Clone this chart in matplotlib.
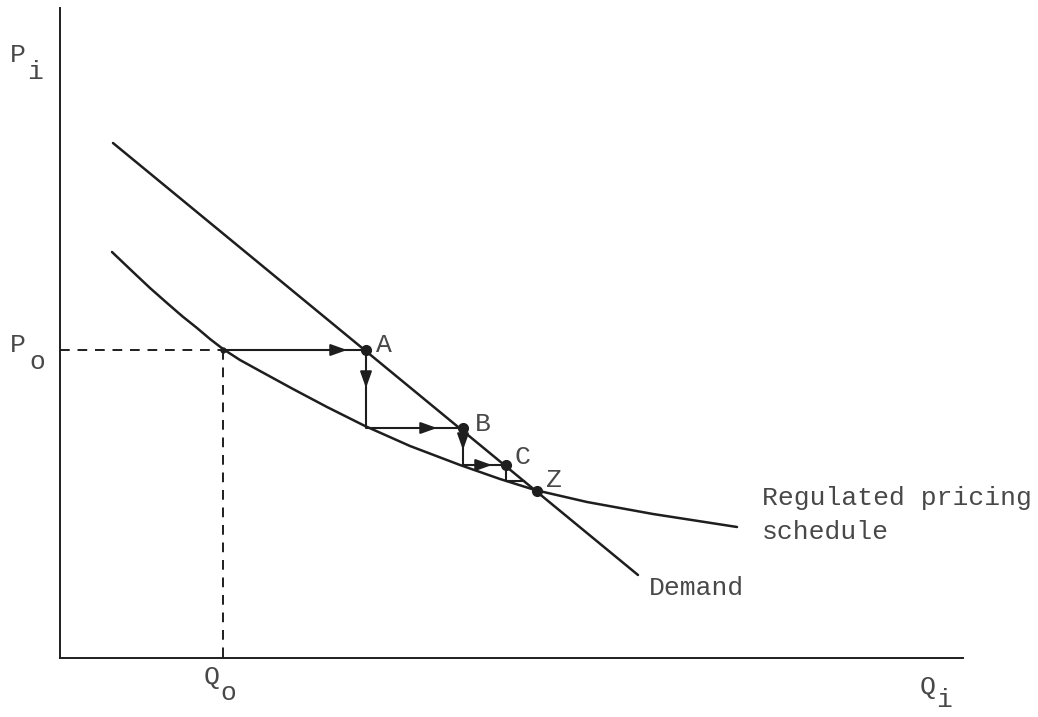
import matplotlib
matplotlib.use('Agg')
import matplotlib.pyplot as plt

# demand line (Q, P)
demand_q = [0.53, 5.78]
demand_p = [5.15, 0.83]

# regulated pricing schedule
sched_q = [0.52, 0.73, 0.90, 1.07, 1.22, 1.37, 1.50, 1.63, 1.80, 2.00,
           2.33, 2.67, 3.05, 3.50, 4.00, 4.40, 4.75, 5.27, 5.93, 6.77]
sched_p = [4.06, 3.86, 3.70, 3.55, 3.42, 3.30, 3.19, 3.09, 2.98, 2.87,
           2.69, 2.51, 2.32, 2.12, 1.93, 1.79, 1.68, 1.56, 1.44, 1.31]

# adjustment path P0 -> A -> B -> C -> Z
step_q = [1.63, 3.06, 3.06, 4.03, 4.03, 4.46, 4.46, 4.64]
step_p = [3.08, 3.08, 2.30, 2.30, 1.93, 1.93, 1.77, 1.77]

# arrowheads on the path: (q, p, direction)
arrows = [(2.87, 3.08, 'right'), (3.06, 2.70, 'down'), (3.77, 2.30, 'right'),
          (4.03, 2.08, 'down'), (4.32, 1.93, 'right')]

point_names = ['A', 'B', 'C', 'Z']
point_q = [3.06, 4.03, 4.46, 4.77]
point_p = [3.08, 2.30, 1.93, 1.67]

q0 = 1.63
p0 = 3.08
q_max = 9.03
p_max = 6.50

ink = '#1e1e1e'
txt = '#484848'
font = 'Liberation Mono'
fs = 19

fig = plt.figure(figsize=(10.38, 7.17), dpi=100)
ax = fig.add_axes([0, 0, 1, 1])
ax.set_xlim(-0.60, 9.78)
ax.set_ylim(-0.59, 6.58)
ax.axis('off')

# axes
ax.plot([0, 0], [0, p_max], color=ink, lw=1.4)
ax.plot([0, q_max], [0, 0], color=ink, lw=1.4)

# dashed guides
ax.plot([0, q0], [p0, p0], color=ink, lw=1.4, ls=(0, (5, 4)))
ax.plot([q0, q0], [p0, 0], color=ink, lw=1.4, ls=(0, (5, 4)))

ax.plot(demand_q, demand_p, color=ink, lw=1.8, solid_capstyle='round')
ax.plot(sched_q, sched_p, color=ink, lw=1.8, solid_joinstyle='round',
        solid_capstyle='round')
ax.plot(step_q, step_p, color=ink, lw=1.5)

for q, p, d in arrows:
    if d == 'right':
        start = (q - 0.1, p)
    else:
        start = (q, p + 0.1)
    ax.annotate('', xy=(q, p), xytext=start,
                arrowprops=dict(arrowstyle='-|>,head_length=0.7,head_width=0.25',
                                color=ink, lw=1.5,
                                mutation_scale=14, shrinkA=0, shrinkB=0))

ax.plot(point_q, point_p, 'o', color=ink, ms=7)
ax.plot([q0], [p0], 'o', color=ink, ms=3.5)

label_off = [(0.18, 0.05), (0.20, 0.04), (0.16, 0.08), (0.17, 0.11)]
for name, q, p, (dq, dp) in zip(point_names, point_q, point_p, label_off):
    ax.text(q + dq, p + dp, name, color=txt, fontsize=fs, family=font,
            ha='center', va='center')

# axis labels with subscripts
ax.text(-0.42, 6.03, 'P', color=txt, fontsize=fs, family=font, ha='center', va='center')
ax.text(-0.25, 5.86, 'i', color=txt, fontsize=fs, family=font, ha='center', va='center')
ax.text(-0.42, 3.13, 'P', color=txt, fontsize=fs, family=font, ha='center', va='center')
ax.text(-0.23, 2.96, 'o', color=txt, fontsize=fs, family=font, ha='center', va='center')
ax.text(1.52, -0.19, 'Q', color=txt, fontsize=fs, family=font, ha='center', va='center')
ax.text(1.68, -0.35, 'o', color=txt, fontsize=fs, family=font, ha='center', va='center')
ax.text(8.68, -0.29, 'Q', color=txt, fontsize=fs, family=font, ha='center', va='center')
ax.text(8.84, -0.42, 'i', color=txt, fontsize=fs, family=font, ha='center', va='center')

ax.text(7.02, 1.60, 'Regulated pricing', color=txt, fontsize=fs, family=font,
        ha='left', va='center')
ax.text(7.02, 1.26, 'schedule', color=txt, fontsize=fs, family=font,
        ha='left', va='center')
ax.text(5.89, 0.70, 'Demand', color=txt, fontsize=fs, family=font,
        ha='left', va='center')

fig.savefig('out.png', dpi=100)
